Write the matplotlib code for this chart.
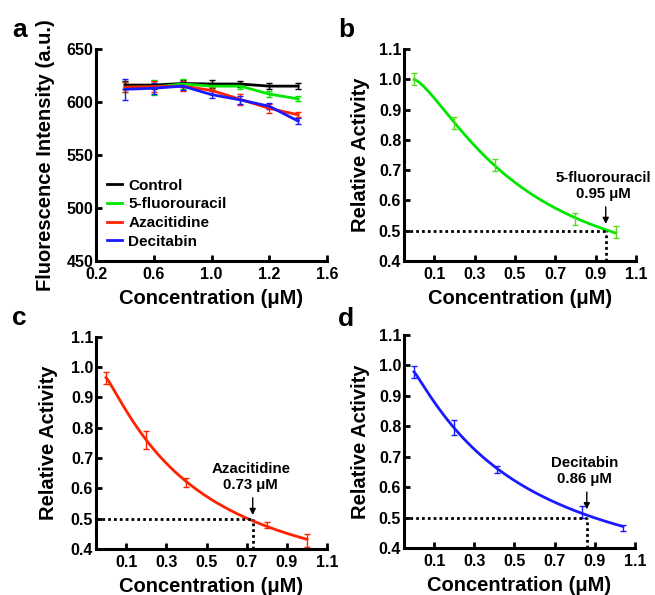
import numpy as np
import matplotlib.pyplot as plt

plt.rcParams['font.family'] = ['Liberation Sans', 'DejaVu Sans']
plt.rcParams['font.weight'] = 'bold'
plt.rcParams['axes.labelweight'] = 'bold'

# panel a data
conc_a = [0.4, 0.6, 0.8, 1.0, 1.2, 1.4, 1.6]
ctrl = [616, 616, 617.5, 617, 617, 615, 615]
ctrl_err = [4, 4, 3, 4, 3, 3, 3]
fu = [614, 614, 617, 615, 615, 607.5, 603]
fu_err = [5, 7, 5, 3, 3, 3, 2.5]
aza = [614, 614.5, 615, 611, 602.5, 594, 588]
aza_err = [5, 5, 5, 3, 5, 4, 2.5]
dec = [612, 613, 615, 607, 602, 596, 582]
dec_err = [10, 5, 4, 3, 4, 3, 3]
a_xticks = [0.2, 0.6, 1.0, 1.4, 1.8]
a_xlabels = ['0.2', '0.6', '1.0', '1.2', '1.6']

# panels b-d data
conc_b = [0.0, 0.2, 0.4, 0.8, 1.0]
act_b = [1.0, 0.856, 0.716, 0.539, 0.495]
err_b = [0.02, 0.02, 0.02, 0.02, 0.02]
conc_c = [0.0, 0.2, 0.4, 0.8, 1.0]
act_c = [0.965, 0.76, 0.62, 0.48, 0.428]
err_c = [0.02, 0.03, 0.015, 0.01, 0.02]
conc_d = [0.0, 0.2, 0.413, 0.836, 1.04]
act_d = [0.978, 0.797, 0.658, 0.519, 0.467]
err_d = [0.02, 0.025, 0.01, 0.02, 0.01]
ic50 = [0.95, 0.73, 0.86]
names = ['5-fluorouracil', 'Azacitidine', 'Decitabin']

GREEN = '#00e600'
RED = '#ff2200'
BLUE = '#1a1aff'
GREEN_ERR = '#5ad81e'
TICK_FS = 11.5
LABEL_FS = 14.5


def fit_logistic(x, y):
    # grid search on x0 and slope, least squares for top/bottom
    x = np.asarray(x)
    y = np.asarray(y)
    best = None
    for x0 in np.linspace(0.05, 3, 120):
        for h in np.linspace(0.4, 4, 73):
            g = 1 / (1 + (x / x0) ** h)
            A = np.column_stack([1 - g, g])
            coef = np.linalg.lstsq(A, y, rcond=None)[0]
            r = np.sum((A @ coef - y) ** 2)
            if best is None or r < best[0]:
                best = (r, x0, h, coef)
    _, x0, h, coef = best
    return lambda t: coef[0] + (coef[1] - coef[0]) / (1 + (np.asarray(t) / x0) ** h)


fig = plt.figure(figsize=(6.55, 5.95), dpi=100)


def style(ax):
    for s in ['top', 'right']:
        ax.spines[s].set_visible(False)
    for s in ['left', 'bottom']:
        ax.spines[s].set_linewidth(2.2)
    ax.tick_params(direction='in', length=4, width=2, labelsize=TICK_FS)
    ax.tick_params(axis='x', pad=4.5)
    ax.tick_params(axis='y', pad=2)
    for lab in ax.get_xticklabels() + ax.get_yticklabels():
        lab.set_fontweight('bold')


# panel a
ax = fig.add_axes([0.1466, 0.5613, 0.3527, 0.3563])
for y, e, c, n in [(ctrl, ctrl_err, 'black', 'Control'), (fu, fu_err, GREEN, '5-fluorouracil'),
                   (aza, aza_err, RED, 'Azacitidine'), (dec, dec_err, BLUE, 'Decitabin')]:
    ax.errorbar(conc_a, y, yerr=e, color=c, lw=2, elinewidth=1, capsize=2, capthick=1, label=n)
ax.set_xlim(0.2, 1.8)
ax.set_ylim(450, 650)
ax.set_xticks(a_xticks)
ax.set_xticklabels(a_xlabels)
ax.set_yticks([450, 500, 550, 600, 650])
ax.set_xlabel('Concentration (μM)', fontsize=LABEL_FS, labelpad=5)
ax.set_ylabel('Fluorescence Intensity (a.u.)', fontsize=LABEL_FS, labelpad=8.5)
style(ax)
handles, labels = ax.get_legend_handles_labels()
handles = [h[0] for h in handles]
ax.legend(handles, labels, loc='lower left', bbox_to_anchor=(0.02, 0.03), borderaxespad=0,
          frameon=False, handlelength=1.0, handletextpad=0.4, labelspacing=0.3,
          prop={'size': 11, 'weight': 'bold'})
fig.text(0.018, 0.938, 'a', fontsize=19, fontweight='bold')

# panels b-d
panels = [
    ([0.6168, 0.5613, 0.3542, 0.3563], conc_b, act_b, err_b, GREEN, GREEN_ERR, 'b', 0.516, 0.938, 6),
    ([0.1466, 0.0773, 0.3527, 0.3568], conc_c, act_c, err_c, RED, RED, 'c', 0.018, 0.454, 9),
    ([0.6168, 0.0790, 0.3527, 0.3580], conc_d, act_d, err_d, BLUE, BLUE, 'd', 0.516, 0.452, 6),
]
for i, (pos, x, y, e, c, ec, letter, lx, ly, ypad) in enumerate(panels):
    ax = fig.add_axes(pos)
    f = fit_logistic(x, y)
    xf = np.linspace(min(x), max(x), 200)
    ax.plot(xf, f(xf), color=c, lw=2)
    ax.errorbar(x, y, yerr=e, fmt='none', ecolor=ec, elinewidth=1, capsize=2, capthick=1)
    ax.set_xlim(-0.05, 1.1)
    ax.set_ylim(0.4, 1.1)
    ax.set_xticks([0.1, 0.3, 0.5, 0.7, 0.9, 1.1])
    ax.set_yticks(np.round(np.arange(0.4, 1.11, 0.1), 1))
    ax.set_xlabel('Concentration (μM)', fontsize=LABEL_FS, labelpad=5)
    ax.set_ylabel('Relative Activity', fontsize=LABEL_FS, labelpad=ypad)
    style(ax)
    xi = ic50[i]
    tip = float(f(xi)) + 0.01
    ax.plot([-0.05, xi], [0.5, 0.5], color='black', lw=2, ls=(0, (1, 1.1)))
    ax.plot([xi, xi], [0.4, 0.5], color='black', lw=2, ls=(0, (1, 1.1)))
    ax.annotate('', xy=(xi, tip), xytext=(xi, tip + 0.075),
                arrowprops=dict(arrowstyle='-|>', color='black', lw=1, mutation_scale=9))
    ax.text(xi - 0.01, tip + 0.085, '%s\n%.2f μM' % (names[i], xi), ha='center', va='bottom',
            fontsize=10.8, fontweight='bold', linespacing=1.2)
    fig.text(lx, ly, letter, fontsize=19, fontweight='bold')

fig.savefig('out.png', dpi=100)
